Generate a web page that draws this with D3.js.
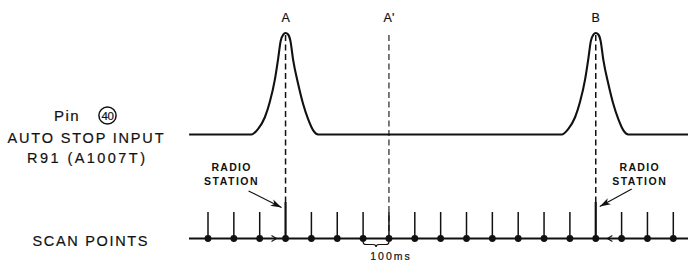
<!DOCTYPE html>
<html>
<head>
<meta charset="utf-8">
<script src="https://cdn.jsdelivr.net/npm/d3@7"></script>
<style>
  body { margin: 0; background: #fff; }
  svg { display: block; font-family: 'Liberation Sans', Arial, sans-serif; }
  text { fill: #111; }
  text.heavy { stroke: #111; stroke-width: 0.2; }
</style>
</head>
<body>
<svg id="chart"></svg>
<script>
// Scan points every 100 ms
const scanTimes = [0, 100, 200, 300, 400, 500, 600, 700, 800, 900, 1000, 1100, 1200, 1300, 1400, 1500, 1600, 1700, 1800];
// Scan points that land on a radio station
const stationTimes = [300, 1500];
const stationSides = ['left', 'right'];

// Vertical marker lines at the top
const markerLabels = ['A', "A'", 'B'];
const markerTimes = [300, 700, 1500];

// Auto stop input waveform (pin 40)
const waveTimes = [-73,
  168, 194, 220, 239, 259, 271, 281, 291, 300, 310, 319, 329, 349, 368, 387, 407, 426,
  1368, 1394, 1420, 1439, 1459, 1471, 1481, 1491, 1500, 1510, 1519, 1529, 1549, 1568, 1587, 1607, 1626,
  1860];
const waveLevels = [0,
  0, 0.056, 0.17, 0.32, 0.546, 0.74, 0.92, 0.985, 1, 0.985, 0.92, 0.74, 0.495, 0.30, 0.153, 0.04, 0,
  0, 0.056, 0.17, 0.32, 0.546, 0.74, 0.92, 0.985, 1, 0.985, 0.92, 0.74, 0.495, 0.30, 0.153, 0.04, 0,
  0];

// Small seek-direction arrows on the scan line
const seekTimes = [265, 1545];
const seekDirs = [1, -1];

// Interval brace
const braceFrom = 600;
const braceTo = 700;
const braceLabel = '100ms';

class ScanDiagram {
  constructor(_config) {
    this.config = {
      parentElement: _config.parentElement,
      containerWidth: _config.containerWidth || 688,
      containerHeight: _config.containerHeight || 260,
      waveBase: 134.5,
      wavePeak: 33,
      scanY: 238.5,
      tickTop: 212,
      stationTop: 202,
      dashTop: 35
    };
    this.initVis();
  }

  initVis() {
    let vis = this;

    vis.svg = d3.select(vis.config.parentElement)
        .attr('width', vis.config.containerWidth)
        .attr('height', vis.config.containerHeight);

    vis.xScale = d3.scaleLinear()
        .domain([0, 1800])
        .range([208, 673.3]);

    vis.yScale = d3.scaleLinear()
        .domain([0, 1])
        .range([vis.config.waveBase, vis.config.wavePeak]);

    vis.defs = vis.svg.append('defs');
    vis.defs.append('marker')
        .attr('id', 'arrow')
        .attr('viewBox', '0 0 12 8')
        .attr('refX', 11)
        .attr('refY', 4)
        .attr('markerWidth', 12)
        .attr('markerHeight', 8)
        .attr('markerUnits', 'userSpaceOnUse')
        .attr('orient', 'auto')
      .append('path')
        .attr('d', 'M0,0.5 L11,4 L0,7.5 L3,4 Z')
        .attr('fill', '#111');

    vis.renderVis();
  }

  renderVis() {
    let vis = this;
    const x = vis.xScale, y = vis.yScale, c = vis.config;

    // Left side labels
    vis.svg.append('text')
        .attr('class', 'heavy')
        .attr('x', 54).attr('y', 120.5)
        .attr('font-size', 15)
        .attr('letter-spacing', 1.5)
        .text('Pin');
    vis.svg.append('circle')
        .attr('cx', 107.5).attr('cy', 115.5).attr('r', 8.6)
        .attr('fill', 'none').attr('stroke', '#111').attr('stroke-width', 1.5);
    vis.svg.append('text')
        .attr('class', 'heavy')
        .attr('x', 107.5).attr('y', 119.6)
        .attr('font-size', 11.5)
        .attr('text-anchor', 'middle')
        .attr('letter-spacing', -0.4)
        .text('40');

    const sideLabels = [
      {text: 'AUTO STOP INPUT', x: 7.5, y: 142.5, w: 156},
      {text: 'R91 (A1007T)', x: 27, y: 162.5, w: 118},
      {text: 'SCAN POINTS', x: 32.5, y: 245.5, w: 115}
    ];
    vis.svg.selectAll('.side-label')
        .data(sideLabels)
      .join('text')
        .attr('class', 'side-label heavy')
        .attr('x', d => d.x)
        .attr('y', d => d.y)
        .attr('font-size', 14.5)
        .attr('textLength', d => d.w)
        .attr('lengthAdjust', 'spacing')
        .text(d => d.text);

    // Auto stop waveform
    const wave = waveTimes.map((t, i) => ({t: t, v: waveLevels[i]}));
    const line = d3.line()
        .x(d => x(d.t))
        .y(d => y(d.v))
        .curve(d3.curveMonotoneX);
    vis.svg.append('path')
        .datum(wave)
        .attr('d', line)
        .attr('fill', 'none')
        .attr('stroke', '#111')
        .attr('stroke-width', 2.1)
        .attr('stroke-linejoin', 'round');

    // Marker labels and dashed verticals
    const markers = markerTimes.map((t, i) => ({t: t, label: markerLabels[i]}));
    vis.svg.selectAll('.marker-label')
        .data(markers)
      .join('text')
        .attr('class', 'marker-label heavy')
        .attr('x', d => x(d.t))
        .attr('y', 22)
        .attr('font-size', 12.5)
        .attr('text-anchor', 'middle')
        .text(d => d.label);

    vis.svg.selectAll('.marker-line')
        .data(markers)
      .join('line')
        .attr('class', 'marker-line')
        .attr('x1', d => x(d.t)).attr('x2', d => x(d.t))
        .attr('y1', c.dashTop)
        .attr('y2', d => stationTimes.includes(d.t) ? c.stationTop : c.scanY)
        .attr('stroke', '#111')
        .attr('stroke-width', d => stationTimes.includes(d.t) ? 1.5 : 1.1)
        .attr('stroke-dasharray', '6,3.5');

    // Scan line
    vis.svg.append('line')
        .attr('x1', 189).attr('x2', c.containerWidth)
        .attr('y1', c.scanY).attr('y2', c.scanY)
        .attr('stroke', '#111')
        .attr('stroke-width', 1.8);

    vis.svg.selectAll('.scan-tick')
        .data(scanTimes)
      .join('line')
        .attr('class', 'scan-tick')
        .attr('x1', d => x(d)).attr('x2', d => x(d))
        .attr('y1', d => stationTimes.includes(d) ? c.stationTop : c.tickTop)
        .attr('y2', c.scanY)
        .attr('stroke', '#111')
        .attr('stroke-width', d => stationTimes.includes(d) ? 2.2 : 1.5);

    vis.svg.selectAll('.scan-dot')
        .data(scanTimes)
      .join('circle')
        .attr('class', 'scan-dot')
        .attr('cx', d => x(d))
        .attr('cy', c.scanY)
        .attr('r', 3.4)
        .attr('fill', '#111');

    // Seek direction arrowheads on the scan line
    vis.svg.selectAll('.seek')
        .data(seekTimes.map((t, i) => ({t: t, dir: seekDirs[i]})))
      .join('path')
        .attr('class', 'seek')
        .attr('d', d => {
          const px = x(d.t), s = d.dir * 5;
          return `M${px - s},${c.scanY - 3} L${px},${c.scanY} L${px - s},${c.scanY + 3}`;
        })
        .attr('fill', 'none')
        .attr('stroke', '#111')
        .attr('stroke-width', 1.1);

    // Radio station callouts
    const stations = stationTimes.map((t, i) => ({t: t, side: stationSides[i]}));
    const callout = {
      left:  {text: -54, arrowFrom: [-37, 191], arrowTo: [-4, 207.5]},
      right: {text: 44, arrowFrom: [36, 189], arrowTo: [4, 206.5]}
    };
    const g = vis.svg.selectAll('.station')
        .data(stations)
      .join('g')
        .attr('class', 'station');

    g.append('text')
        .attr('x', d => x(d.t) + callout[d.side].text)
        .attr('y', 171)
        .attr('font-size', 10.5)
        .attr('font-weight', 'bold')
        .attr('letter-spacing', 1.3)
        .attr('text-anchor', 'middle')
        .text('RADIO');
    g.append('text')
        .attr('x', d => x(d.t) + callout[d.side].text)
        .attr('y', 184.5)
        .attr('font-size', 10.5)
        .attr('font-weight', 'bold')
        .attr('letter-spacing', 1.5)
        .attr('text-anchor', 'middle')
        .text('STATION');
    g.append('line')
        .attr('x1', d => x(d.t) + callout[d.side].arrowFrom[0])
        .attr('y1', d => callout[d.side].arrowFrom[1])
        .attr('x2', d => x(d.t) + callout[d.side].arrowTo[0])
        .attr('y2', d => callout[d.side].arrowTo[1])
        .attr('stroke', '#111')
        .attr('stroke-width', 1.1)
        .attr('marker-end', 'url(#arrow)');

    // 100 ms brace
    const bx0 = x(braceFrom), bx1 = x(braceTo), bm = (bx0 + bx1) / 2, by = c.scanY + 6;
    const brace = d3.path();
    brace.moveTo(bx0, by - 2.5);
    brace.quadraticCurveTo(bx0, by, bx0 + 3, by);
    brace.lineTo(bm - 3, by);
    brace.quadraticCurveTo(bm, by, bm, by + 2.5);
    brace.quadraticCurveTo(bm, by, bm + 3, by);
    brace.lineTo(bx1 - 3, by);
    brace.quadraticCurveTo(bx1, by, bx1, by - 2.5);
    vis.svg.append('path')
        .attr('d', brace.toString())
        .attr('fill', 'none')
        .attr('stroke', '#111')
        .attr('stroke-width', 1.2);

    vis.svg.append('text')
        .attr('class', 'heavy')
        .attr('x', bm + 15)
        .attr('y', 259.5)
        .attr('font-size', 10.5)
        .attr('letter-spacing', 2)
        .attr('text-anchor', 'middle')
        .text(braceLabel);
  }
}

new ScanDiagram({parentElement: '#chart'});
</script>
</body>
</html>
